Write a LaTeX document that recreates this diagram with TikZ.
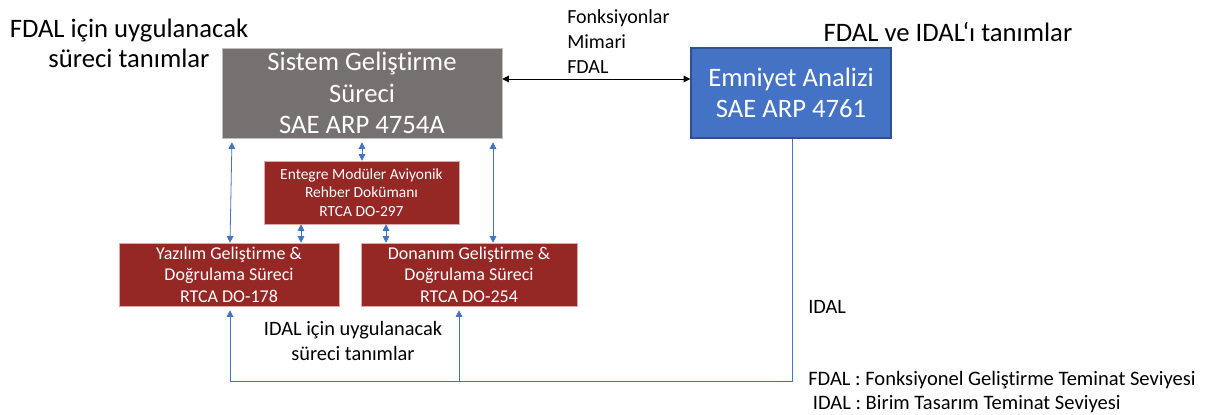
\documentclass[tikz,border=0pt]{standalone}
\usepackage{fontspec}
\setmainfont{Carlito}[Ligatures=CommonOff]
\usetikzlibrary{arrows.meta}

\definecolor{sysgray}{HTML}{767171}
\definecolor{sysedge}{HTML}{BFBFBF}
\definecolor{safblue}{HTML}{4472C4}
\definecolor{safedge}{HTML}{2F528F}
\definecolor{doired}{HTML}{952725}
\definecolor{doiedge}{HTML}{E0A8A6}

\tikzset{
  sysbox/.style={draw=sysedge, fill=sysgray, text=white, align=center, inner sep=0pt,
    font=\fontsize{20}{23.5}\selectfont},
  safbox/.style={draw=safedge, line width=1pt, fill=safblue, text=white, align=center, inner sep=0pt,
    font=\fontsize{20}{23.5}\selectfont},
  doibox/.style={draw=doiedge, line width=0.4pt, fill=doired, text=white, align=center, inner sep=0pt,
    minimum height=47.25pt, font=\fontsize{13.5}{16}\selectfont},
  lbl/.style={align=center, inner sep=0pt},
  bilink/.style={safblue, line width=0.6pt, {Triangle[length=5pt,width=5pt]}-{Triangle[length=5pt,width=5pt]}},
  uplink/.style={safblue, line width=0.6pt, -{Triangle[length=5pt,width=5pt]}},
}

\begin{document}
\begin{tikzpicture}[x=0.75pt, y=-0.75pt]
	\useasboundingbox (0,0) rectangle (1206,414);
	
	% ana kutular
	\node[sysbox, minimum width=210pt, minimum height=67.5pt] (sys) at (362,93) {Sistem Geliştirme\\Süreci\\SAE ARP 4754A};
	\node[safbox, minimum width=150pt, minimum height=67.5pt] (saf) at (791,93) {Emniyet Analizi\\SAE ARP 4761};
	
	\node[doibox, minimum width=146.25pt, font=\fontsize{11.6}{13.7}\selectfont] (ima) at (361.5,192.5) {Entegre Modüler Aviyonik\\Rehber Dokümanı\\RTCA DO-297};
	\node[doibox, minimum width=165pt] (sw) at (229,274.5) {Yazılım Geliştirme \&\\Doğrulama Süreci\\RTCA DO-178};
	\node[doibox, minimum width=162pt] (hw) at (469,274.5) {Donanım Geliştirme \&\\Doğrulama Süreci\\RTCA DO-254};
	
	% yazilar
	\node[lbl, font=\fontsize{20}{22.5}\selectfont] (fdaltxt) at (129,43) {FDAL için uygulanacak\\süreci tanımlar};
	\node[lbl, font=\fontsize{20}{22}\selectfont] (defs) at (948,32) {FDAL ve IDAL‘ı tanımlar};
	\node[lbl, align=left, anchor=west, font=\fontsize{15}{18.75}\selectfont] (flow) at (567,42) {Fonksiyonlar\\Mimari\\FDAL};
	\node[lbl, font=\fontsize{15.3}{18.75}\selectfont] (idaltxt) at (353,341) {IDAL için uygulanacak\\süreci tanımlar};
	\node[lbl, anchor=west, font=\fontsize{15.3}{17}\selectfont] (idal) at (808,307) {IDAL};
	\node[lbl, align=left, anchor=west, font=\fontsize{15.4}{18}\selectfont] (legend) at (808,392) {FDAL : Fonksiyonel Geliştirme Teminat Seviyesi\\\ IDAL : Birim Tasarım Teminat Seviyesi};
	
	% baglantilar
	\draw[black, line width=0.6pt, {Triangle[length=5pt,width=5pt]}-{Triangle[length=5pt,width=5pt]}] (sys.east |- 0,79) -- (saf.west |- 0,79);
	\draw[bilink, shorten <=3pt] (sys.south -| 232,0) -- (sw.north -| 230,0);
	\draw[bilink, shorten <=3pt] (sys.south -| 362,0) -- (ima.north -| 362,0);
	\draw[bilink, shorten <=3pt] (sys.south -| 493,0) -- (hw.north -| 493,0);
	\draw[bilink] (ima.south -| 301,0) -- (sw.north -| 301,0);
	\draw[bilink] (ima.south -| 386,0) -- (hw.north -| 386,0);
	
	\coordinate (corner) at (792,381);
	\draw[safblue, line width=0.6pt] (saf.south -| corner) -- (corner) -- (230,381);
	\draw[uplink, shorten >=3pt] (230,381) -- (sw.south -| 230,0);
	\draw[uplink, shorten >=3pt] (459,381) -- (hw.south -| 459,0);
\end{tikzpicture}
\end{document}
